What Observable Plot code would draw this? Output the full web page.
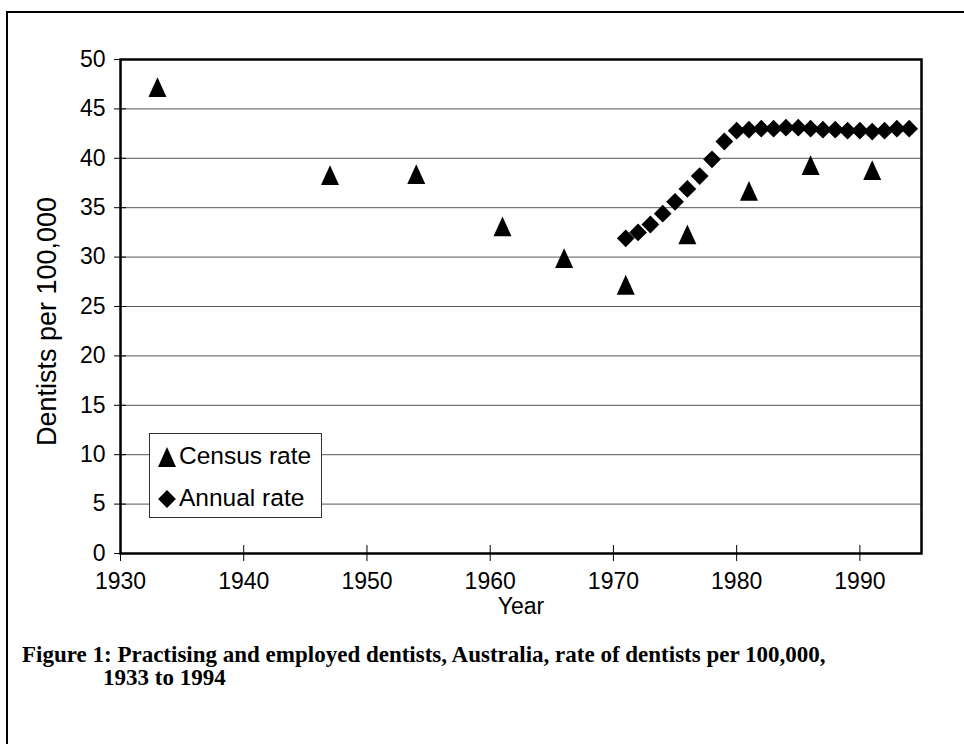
<!DOCTYPE html>
<html>
<head>
<meta charset="utf-8">
<script src="https://cdn.jsdelivr.net/npm/d3@7"></script>
<script src="https://cdn.jsdelivr.net/npm/@observablehq/plot@0.6"></script>
<style>
  html, body { margin: 0; padding: 0; background: #fff; width: 964px; height: 744px; overflow: hidden; }
  #outer { position: absolute; left: 6px; top: 11px; width: 1000px; height: 1000px; border-left: 2px solid #000; border-top: 2px solid #000; }
  #chart { position: absolute; left: 0; top: 0; }
  #legend { position: absolute; left: 149px; top: 433px; width: 171px; height: 83px; border: 1px solid #333; background: #fff;
            font-family: "Liberation Sans", Arial, sans-serif; font-size: 24.5px; color: #000; }
  #legend .row { position: absolute; left: 6px; display: flex; align-items: center; }
  #legend svg { margin-right: 1px; }
  #caption { position: absolute; left: 22px; top: 643px; font-family: "Liberation Serif", "Times New Roman", serif; font-weight: bold; font-size: 23px; line-height: 23px; color: #000; white-space: nowrap; }
  #caption .l2 { padding-left: 81px; }
</style>
</head>
<body>
<div id="outer"></div>
<div id="chart"></div>
<div id="legend"></div>
<div id="caption"><div>Figure 1: Practising and employed dentists, Australia, rate of dentists per 100,000,</div><div class="l2">1933 to 1994</div></div>
<script>
// ---- data ----
const censusYears = [1933, 1947, 1954, 1961, 1966, 1971, 1976, 1981, 1986, 1991];
const censusRate  = [47.2, 38.3, 38.4, 33.1, 29.9, 27.2, 32.3, 36.7, 39.3, 38.8];
const annualYears = [1971, 1972, 1973, 1974, 1975, 1976, 1977, 1978, 1979, 1980, 1981, 1982,
                     1983, 1984, 1985, 1986, 1987, 1988, 1989, 1990, 1991, 1992, 1993, 1994];
const annualRate  = [31.9, 32.5, 33.3, 34.4, 35.6, 36.9, 38.2, 39.9, 41.7, 42.8, 42.9, 43.0,
                     43.0, 43.1, 43.1, 43.0, 42.9, 42.9, 42.8, 42.8, 42.7, 42.8, 43.0, 43.0];
const xTicks = [1930, 1940, 1950, 1960, 1970, 1980, 1990];
const yTicks = [0, 5, 10, 15, 20, 25, 30, 35, 40, 45, 50];
const seriesNames = ["Census rate", "Annual rate"];
const xLabel = "Year";
const yLabel = "Dentists per 100,000";

const census = censusYears.map((y, i) => ({year: y, rate: censusRate[i]}));
const annual = annualYears.map((y, i) => ({year: y, rate: annualRate[i]}));

const font = '"Liberation Sans", Arial, sans-serif';

// Excel-like tall triangle, centred on its bounding box
const tallTriangle = {
  draw(context, size) {
    const r = Math.sqrt(size / Math.PI);
    context.moveTo(0, -1.1 * r);
    context.lineTo(r, 1.1 * r);
    context.lineTo(-r, 1.1 * r);
    context.closePath();
  }
};

const chart = Plot.plot({
  width: 964,
  height: 640,
  marginLeft: 120,
  marginRight: 43,
  marginTop: 59,
  marginBottom: 87,
  style: {fontFamily: font, fontSize: "23px", color: "#000", background: "transparent"},
  x: {domain: [1930, 1995], axis: null},
  y: {domain: [0, 50], axis: null},
  marks: [
    Plot.ruleY(yTicks, {y: d => d, stroke: "#555", strokeWidth: 1}),
    // crossing tick marks
    Plot.ruleY(yTicks, {y: d => d, x1: 1930, x2: 1930, insetLeft: -6, insetRight: -6, stroke: "#000", strokeWidth: 1}),
    Plot.ruleX(xTicks, {x: d => d, y1: 0, y2: 0, insetTop: -8, insetBottom: -8, stroke: "#000", strokeWidth: 1}),
    // tick labels
    Plot.axisY({ticks: yTicks, tickSize: 0, tickPadding: 15, fontSize: 23, fill: "#000", label: null}),
    Plot.axisX({ticks: xTicks, tickSize: 0, tickPadding: 19, fontSize: 23, fill: "#000", label: null, tickFormat: d => String(d)}),
    Plot.frame({stroke: "#000", strokeWidth: 2.5}),
    Plot.text([xLabel], {frameAnchor: "bottom", lineAnchor: "middle", textAnchor: "middle", dy: 53, fontSize: 23, fill: "#000"}),
    Plot.text([yLabel], {frameAnchor: "left", lineAnchor: "middle", textAnchor: "middle", dx: -73, dy: 15, rotate: -90, fontSize: 27, fill: "#000"}),
    Plot.dot(annual, {x: "year", y: "rate", symbol: "diamond2", r: 8, fill: "#000", stroke: "none"}),
    Plot.dot(census, {x: "year", y: "rate", symbol: tallTriangle, r: 9, fill: "#000", stroke: "none"})
  ]
});
document.getElementById("chart").appendChild(chart);

// legend
const legend = document.getElementById("legend");
const symbols = [tallTriangle, d3.symbolDiamond2];
const sizes = [Math.PI * 81, Math.PI * 64];
seriesNames.forEach((name, i) => {
  const row = document.createElement("div");
  row.className = "row";
  row.style.top = (i === 0 ? 8 : 50) + "px";
  const s = d3.create("svg").attr("width", 22).attr("height", 26);
  s.append("path").attr("transform", "translate(11,14)")
    .attr("d", d3.symbol(symbols[i], sizes[i])()).attr("fill", "#000");
  row.appendChild(s.node());
  const t = document.createElement("span");
  t.textContent = name;
  row.appendChild(t);
  legend.appendChild(row);
});
</script>
</body>
</html>
